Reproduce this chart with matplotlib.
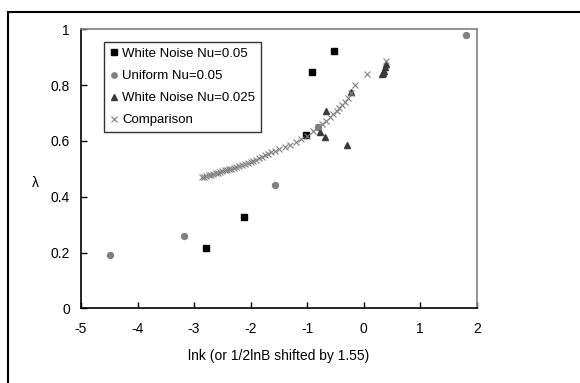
import matplotlib.pyplot as plt
from matplotlib.patches import Rectangle

# White Noise Nu=0.05
wn05_x = [-2.78, -2.11, -1.02, -0.92, -0.52]
wn05_y = [0.216, 0.326, 0.62, 0.848, 0.922]

# Uniform Nu=0.05
uni_x = [-4.49, -3.17, -1.56, -0.80, 1.81]
uni_y = [0.19, 0.26, 0.443, 0.649, 0.98]

# White Noise Nu=0.025
wn025_x = [-0.78, -0.69, -0.67, -0.29, -0.23, 0.32, 0.34, 0.36, 0.38, 0.40]
wn025_y = [0.631, 0.613, 0.706, 0.586, 0.777, 0.839, 0.845, 0.852, 0.865, 0.875]

# Comparison
cmp_x = [-2.86, -2.82, -2.78, -2.74, -2.70, -2.66, -2.62, -2.58, -2.54, -2.50,
         -2.46, -2.42, -2.38, -2.34, -2.30, -2.25, -2.20, -2.15, -2.10, -2.05,
         -2.00, -1.95, -1.90, -1.85, -1.80, -1.75, -1.70, -1.64, -1.57, -1.50,
         -1.40, -1.30, -1.20, -1.10, -1.00, -0.90, -0.80, -0.74, -0.67, -0.60,
         -0.54, -0.48, -0.43, -0.38, -0.33, -0.28, -0.23, -0.15, 0.06, 0.40]
cmp_y = [0.470, 0.472, 0.474, 0.477, 0.479, 0.481, 0.484, 0.486, 0.489, 0.491,
         0.494, 0.496, 0.498, 0.501, 0.503, 0.506, 0.509, 0.513, 0.516, 0.520,
         0.524, 0.528, 0.533, 0.538, 0.543, 0.549, 0.554, 0.559, 0.565, 0.570,
         0.577, 0.586, 0.595, 0.606, 0.618, 0.634, 0.650, 0.660, 0.672, 0.684,
         0.695, 0.707, 0.718, 0.729, 0.741, 0.755, 0.770, 0.800, 0.838, 0.888]

plt.rcParams['font.family'] = ['Liberation Sans', 'DejaVu Sans']
plt.rcParams['axes.unicode_minus'] = False

fig = plt.figure(figsize=(5.8, 3.83), dpi=100)
fig.patches.append(Rectangle((8 / 580, -0.1), 1.2, 1.1 - 12 / 383, transform=fig.transFigure,
                             fill=False, edgecolor='black', lw=1.5))

ax = fig.add_axes([81 / 580, 1 - 308.3 / 383, (476.7 - 81) / 580, (308.3 - 29.3) / 383])

ax.plot(wn05_x, wn05_y, 's', color='black', ms=4.5, ls='none', label='White Noise Nu=0.05')
ax.plot(uni_x, uni_y, 'o', color='#808080', ms=4.3, ls='none', label='Uniform Nu=0.05')
ax.plot(wn025_x, wn025_y, '^', color='#3a3a3a', ms=5, ls='none', label='White Noise Nu=0.025')
ax.plot(cmp_x, cmp_y, 'x', color='#808080', ms=4.5, mew=0.8, ls='none', label='Comparison')

ax.set_xlim(-5, 2)
ax.set_ylim(0, 1)
ax.set_xticks([-5, -4, -3, -2, -1, 0, 1, 2])
ax.set_yticks([0, 0.2, 0.4, 0.6, 0.8, 1])
ax.set_yticklabels(['0', '0.2', '0.4', '0.6', '0.8', '1'])
ax.tick_params(direction='in', length=4, width=1, labelsize=10)
ax.tick_params(axis='x', pad=10)
ax.tick_params(axis='y', pad=8)

for s in ['left', 'bottom']:
    ax.spines[s].set_color('black')
    ax.spines[s].set_linewidth(1.2)
for s in ['top', 'right']:
    ax.spines[s].set_color('#808080')
    ax.spines[s].set_linewidth(1.2)

ax.set_xlabel('lnk (or 1/2lnB shifted by 1.55)', fontsize=10, labelpad=9)
ax.set_ylabel('λ', fontsize=10, rotation=0, va='center', ha='center')
ax.yaxis.set_label_coords(-0.114, 0.45)

leg = ax.legend(loc='upper left', bbox_to_anchor=(0.059, 0.955), fontsize=9.5, frameon=True,
                fancybox=False, edgecolor='black', handlelength=0.6, handletextpad=0.3,
                labelspacing=0.75, borderpad=0.45, borderaxespad=0, markerscale=0.9)
leg.get_frame().set_linewidth(1.0)

fig.savefig('out.png', dpi=100)
